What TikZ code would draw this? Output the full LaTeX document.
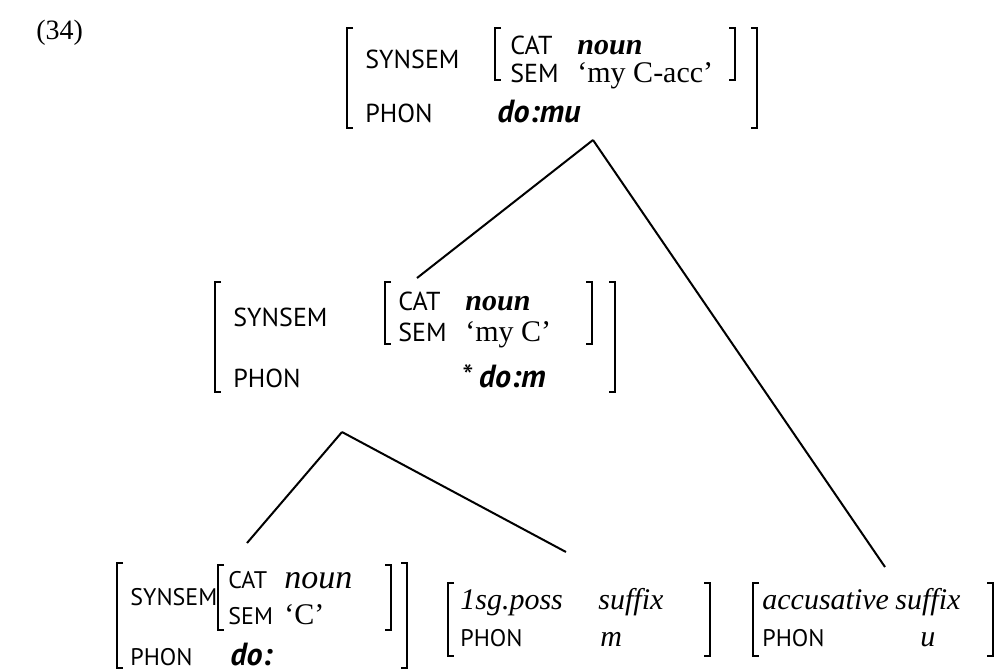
\documentclass[tikz,border=0pt]{standalone}
\usepackage{fontspec}
\setmainfont{Liberation Serif}
\setsansfont{PT Sans}
\usetikzlibrary{positioning}

\begin{document}
\begin{tikzpicture}[x=0.5pt, y=-0.5pt,
    feat/.style={anchor=base west, inner sep=0pt, font=\sffamily\fontsize{13}{15}\selectfont},
    sfeat/.style={feat, font=\sffamily\fontsize{12}{14}\selectfont},
    val/.style={anchor=base west, inner sep=0pt, font=\fontsize{15}{17}\selectfont},
    bival/.style={val, font=\bfseries\itshape\fontsize{15}{17}\selectfont},
    ival/.style={val, font=\itshape\fontsize{15}{17}\selectfont},
    phon/.style={anchor=base west, inner sep=0pt, font=\sffamily\itshape\bfseries\fontsize{16}{18}\selectfont},
    lbr/.pic={\draw[line width=1pt] (6,0) -- (0,0) -- (0,#1) -- (6,#1);},
    rbr/.pic={\draw[line width=1pt] (-6,0) -- (0,0) -- (0,#1) -- (-6,#1);},
    branch/.style={line width=1pt}]
    \useasboundingbox (0,0) rectangle (1000,671);
    \node[anchor=west, inner sep=0pt, font=\fontsize{14}{16}\selectfont] (ex) at (36,33) {(34)};

    \pic at (347,28) {lbr=100};
    \pic at (757,28) {rbr=100};
    \pic at (495,28) {lbr=52};
    \pic at (735,28) {rbr=52};
    \node[feat] (top-syn) at (365,68) {SYNSEM};
    \node[feat] (top-cat) at (510,54) {CAT};
    \node[bival] (top-noun) at (577,54) {noun};
    \node[feat] (top-sem) at (510,82) {SEM};
    \node[val] (top-meaning) at (577,82) {‘my C-acc’};
    \node[feat] (top-phon) at (365,122) {PHON};
    \node[phon] (top-form) at (497,122) {do:mu};

    \pic at (215,282) {lbr=110};
    \pic at (615,282) {rbr=110};
    \pic at (385,282) {lbr=62};
    \pic at (592,282) {rbr=62};
    \node[feat] (mid-syn) at (233,326) {SYNSEM};
    \node[feat] (mid-cat) at (398,310) {CAT};
    \node[bival] (mid-noun) at (465,310) {noun};
    \node[feat] (mid-sem) at (398,341) {SEM};
    \node[val] (mid-meaning) at (465,341) {‘my C’};
    \node[feat] (mid-phon) at (233,387) {PHON};
    \node[phon] (mid-form) at (462,387) {{\upshape\mdseries *}\,do:m};

    \pic at (117,563) {lbr=105};
    \pic at (407,563) {rbr=105};
    \pic at (218,565) {lbr=65};
    \pic at (391,565) {rbr=65};
    \node[sfeat] (stem-syn) at (130,605) {SYNSEM};
    \node[sfeat] (stem-cat) at (228,588) {CAT};
    \node[ival] (stem-noun) at (284,588) {\fontsize{17}{19}\selectfont noun};
    \node[sfeat] (stem-sem) at (228,624) {SEM};
    \node[val] (stem-meaning) at (284,624) {‘C’};
    \node[sfeat] (stem-phon) at (130,665) {PHON};
    \node[phon] (stem-form) at (230,665) {do:};

    \pic at (448,583) {lbr=73};
    \pic at (710,583) {rbr=73};
    \node[ival] (poss-type) at (460,609) {1sg.poss};
    \node[ival] (poss-kind) at (598,609) {suffix};
    \node[sfeat] (poss-phon) at (460,646) {PHON};
    \node[ival] (poss-form) at (600,646) {m};

    \pic at (753,583) {lbr=73};
    \pic at (993,583) {rbr=73};
    \node[ival] (acc-type) at (762,609) {accusative};
    \node[ival] (acc-kind) at (895,609) {suffix};
    \node[sfeat] (acc-phon) at (762,646) {PHON};
    \node[ival] (acc-form) at (920,646) {u};

    \coordinate (top-apex) at (593,140);
    \coordinate (mid-top) at (417,278);
    \coordinate (acc-top) at (885,567);
    \coordinate (mid-apex) at (342,432);
    \coordinate (stem-top) at (247,543);
    \coordinate (poss-top) at (566,552);
    \draw[branch] (top-apex) -- (mid-top);
    \draw[branch] (top-apex) -- (acc-top);
    \draw[branch] (mid-apex) -- (stem-top);
    \draw[branch] (mid-apex) -- (poss-top);
\end{tikzpicture}
\end{document}
